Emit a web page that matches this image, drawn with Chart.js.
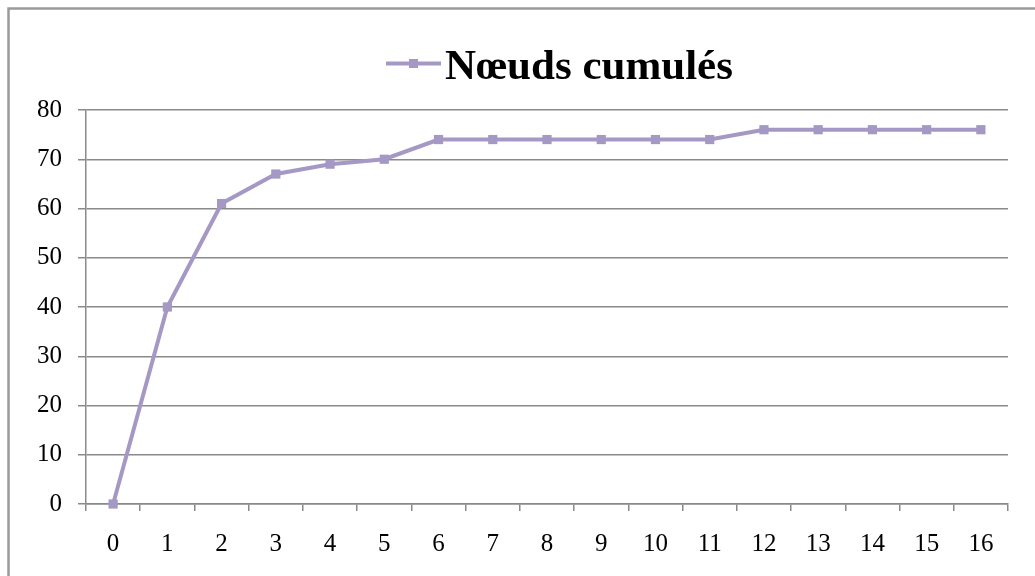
<!DOCTYPE html>
<html>
<head>
<meta charset="utf-8">
<script src="https://cdn.jsdelivr.net/npm/chart.js@4.4.1/dist/chart.umd.min.js"></script>
<style>
html,body{margin:0;padding:0;background:#fff;}
#wrap{width:1035px;height:576px;position:relative;}
</style>
</head>
<body>
<div id="wrap"><canvas id="c" width="1035" height="576"></canvas></div>
<script>
const categories = ["0","1","2","3","4","5","6","7","8","9","10","11","12","13","14","15","16"];
const seriesName = "Nœuds cumulés";
const seriesValues = [0,40,61,67,69,70,74,74,74,74,74,74,76,76,76,76,76];
const yTicks = [0,10,20,30,40,50,60,70,80];

const lineColor = "#A598C4";
const gridColor = "#8A8A8A";
const fontFamily = "'Liberation Serif','Times New Roman',serif";

const framePlugin = {
  id: 'frame',
  beforeDraw(chart) {
    const ctx = chart.ctx;
    ctx.save();
    ctx.strokeStyle = "#9a9a9a";
    ctx.lineWidth = 2.5;
    ctx.strokeRect(8.5, 8.5, 1100, 700);
    ctx.restore();
  },
  afterDraw(chart) {
    const ctx = chart.ctx;
    const ds = chart.data.datasets[0];
    ctx.save();
    ctx.strokeStyle = lineColor;
    ctx.lineWidth = 4;
    ctx.beginPath();
    ctx.moveTo(386, 63.5);
    ctx.lineTo(441, 63.5);
    ctx.stroke();
    ctx.fillStyle = lineColor;
    ctx.fillRect(409, 59, 9, 9);
    ctx.fillStyle = "#000";
    ctx.font = "bold 43px " + fontFamily;
    ctx.textBaseline = "alphabetic";
    ctx.textAlign = "left";
    ctx.fillText(ds.label, 445, 79);
    ctx.restore();
  }
};

new Chart(document.getElementById('c'), {
  type: 'line',
  data: {
    labels: categories,
    datasets: [{
      label: seriesName,
      data: seriesValues,
      borderColor: lineColor,
      backgroundColor: lineColor,
      borderWidth: 4,
      pointStyle: 'rect',
      pointRadius: 6.5,
      pointBorderWidth: 0,
      pointHoverRadius: 6.5,
      tension: 0,
      fill: false,
      clip: false
    }]
  },
  options: {
    responsive: false,
    animation: false,
    devicePixelRatio: 1,
    layout: { padding: { left: 0, top: 110, right: 27, bottom: 0 } },
    plugins: { legend: { display: false }, tooltip: { enabled: false }, title: { display: false } },
    scales: {
      x: {
        offset: true,
        grid: { display: true, drawOnChartArea: false, drawTicks: true, tickLength: 7, color: gridColor, lineWidth: 1.5, offset: true },
        border: { display: true, color: gridColor, width: 1.5 },
        ticks: { color: "#000", font: { family: fontFamily, size: 25 }, padding: 18, maxRotation: 0, autoSkip: false },
        afterFit(scale) { scale.height = 72; }
      },
      y: {
        min: 0, max: 80,
        afterBuildTicks(scale) { scale.ticks = yTicks.map(v => ({ value: v })); },
        grid: { display: true, drawOnChartArea: true, drawTicks: true, tickLength: 8, color: gridColor, lineWidth: 1.5 },
        border: { display: true, color: gridColor, width: 1.5 },
        ticks: { color: "#000", font: { family: fontFamily, size: 25 }, padding: 16 },
        afterFit(scale) { scale.width = 86; }
      }
    }
  },
  plugins: [framePlugin]
});
</script>
</body>
</html>
